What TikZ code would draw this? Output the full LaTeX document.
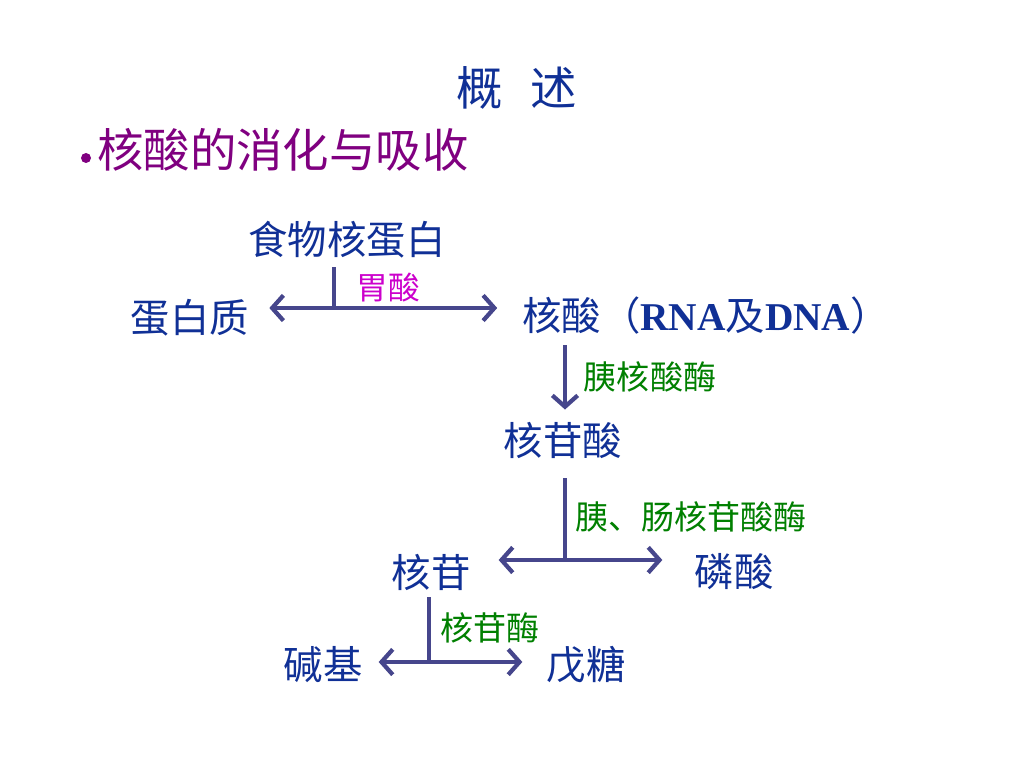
\documentclass[tikz,border=0pt]{standalone}
\usepackage{fontspec}
\usepackage{tikz}
\usetikzlibrary{arrows.meta}
\newfontfamily\cjk{Noto Sans CJK SC}
\newfontfamily\tnr{Liberation Serif}
\definecolor{txtblue}{RGB}{16,48,150}
\definecolor{arrblue}{RGB}{70,70,140}
\definecolor{ttlpurple}{RGB}{128,0,128}
\definecolor{acidmag}{RGB}{204,0,204}
\definecolor{enzgreen}{RGB}{0,128,0}
\tikzset{
  item/.style={txtblue, inner sep=0pt, font=\cjk\fontsize{28}{31}\selectfont},
  enzyme/.style={enzgreen, inner sep=0pt, font=\cjk\fontsize{23.5}{26}\selectfont},
  link/.style={arrblue, line width=3.2pt},
  flow/.style={link, -{Straight Barb[length=8pt,width=18pt,line width=3pt]}}
}
\begin{document}
\begin{tikzpicture}[x=0.025cm,y=-0.025cm]
            \useasboundingbox [fill=white] (0, 0) rectangle (1024, 768);
            % heading
            \node [txtblue, font=\cjk\fontsize{33}{36}\selectfont] (title) at (517, 88) {概\hspace{0.6em}述};
            \node [ttlpurple, anchor=west, inner sep=0pt, font=\cjk\fontsize{33}{36}\selectfont] (sub) at (97, 150) {核酸的消化与吸收};
            \fill [ttlpurple] (86, 158) circle [radius=5];
            % stage 1
            \node [item] (food) at (347, 240) {食物核蛋白};
            \node [inner sep=0pt, font=\cjk\fontsize{22.5}{26}\selectfont, text=acidmag] (acid) at (388, 288) {胃酸};
            \node [item] (prot) at (190, 318) {蛋白质};
            \node [item, anchor=west] (na) at (522, 316) {核酸（{\tnr\bfseries RNA}及{\tnr\bfseries DNA}）};
            \coordinate (j1) at (334, 308);
            \coordinate (t1) at (334, 267);
            \draw [link] (t1) -- (j1);
            \draw [flow, shorten >=0.5cm] (j1) -- (j1 -| prot.east);
            \draw [flow, shorten >=0.62cm] (j1) -- (j1 -| na.west);
            % stage 2
            \node [enzyme] (pnase) at (650, 377) {胰核酸酶};
            \node [item] (nt) at (563, 440) {核苷酸};
            \coordinate (j0) at (565, 345);
            \draw [flow] (j0) -- (j0 |- nt.north) [shorten >=0.3cm];
            % stage 3
            \node [enzyme, anchor=west] (ntase) at (575, 517) {胰、肠核苷酸酶};
            \node [item] (ns) at (431, 572) {核苷};
            \node [item] (pa) at (734, 572) {磷酸};
            \coordinate (j2) at (565, 560);
            \coordinate (t2) at (565, 478);
            \draw [link] (t2) -- (j2);
            \draw [flow, shorten >=0.7cm] (j2) -- (j2 -| ns.east);
            \draw [flow, shorten >=0.8cm] (j2) -- (j2 -| pa.west);
            % stage 4
            \node [enzyme] (nsase) at (490, 628) {核苷酶};
            \node [item] (base) at (323, 665) {碱基};
            \node [item] (pent) at (586, 665) {戊糖};
            \coordinate (j3) at (429, 662);
            \coordinate (t3) at (429, 597);
            \draw [link] (t3) -- (j3);
            \draw [flow, shorten >=0.4cm] (j3) -- (j3 -| base.east);
            \draw [flow, shorten >=0.6cm] (j3) -- (j3 -| pent.west);
        \end{tikzpicture}
\end{document}
